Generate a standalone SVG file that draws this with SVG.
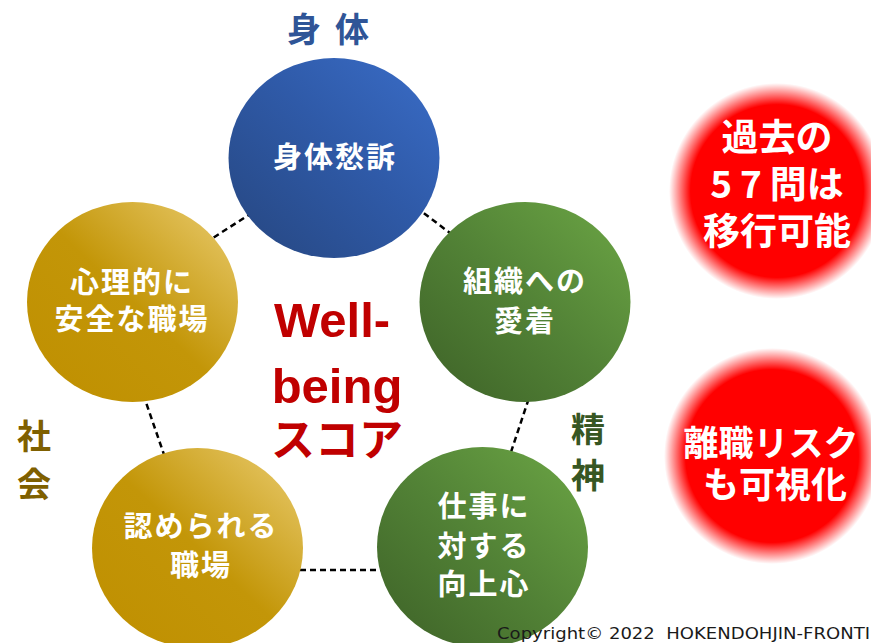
<svg xmlns="http://www.w3.org/2000/svg" width="871" height="643" viewBox="0 0 871 643">
  <defs>
    <linearGradient id="gBlue" x1="0" y1="1" x2="1" y2="0">
      <stop offset="0" stop-color="#26467f"/>
      <stop offset="0.55" stop-color="#2f5aa8"/>
      <stop offset="1" stop-color="#3a6dc8"/>
    </linearGradient>
    <linearGradient id="gGreen" x1="0" y1="1" x2="1" y2="0">
      <stop offset="0" stop-color="#3d6127"/>
      <stop offset="0.5" stop-color="#528236"/>
      <stop offset="1" stop-color="#6ca645"/>
    </linearGradient>
    <linearGradient id="gGold" x1="0" y1="1" x2="1" y2="0">
      <stop offset="0" stop-color="#bf8f00"/>
      <stop offset="0.5" stop-color="#c39608"/>
      <stop offset="1" stop-color="#ebcd72"/>
    </linearGradient>
    <radialGradient id="gRed" cx="0.5" cy="0.5" r="0.5">
      <stop offset="0" stop-color="#ff0000"/>
      <stop offset="0.8" stop-color="#ff0000"/>
      <stop offset="1" stop-color="#ff0000" stop-opacity="0"/>
    </radialGradient>
    <style>
      .dash { stroke: #000; stroke-width: 2.5; stroke-dasharray: 6 4; fill: none; }
      .ct { font-family: "Noto Sans CJK JP", "Noto Sans", sans-serif; font-weight: bold; fill: #fff; text-anchor: middle; }
      .ct30 { font-size: 29px; letter-spacing: 2px; }
      .rt { font-family: "Noto Sans CJK JP", "Noto Sans", sans-serif; font-weight: bold; fill: #fff; text-anchor: middle; }
      .lbl { font-family: "Noto Sans CJK JP", sans-serif; font-weight: bold; font-size: 34px; text-anchor: middle; }
      .wb { font-family: "Liberation Sans", Arial, sans-serif; font-weight: bold; font-size: 49px; fill: #c00000; text-anchor: middle; }
    </style>
  </defs>
  <rect width="871" height="643" fill="#ffffff"/>

  <g id="connectors">
    <line class="dash" x1="180" y1="259" x2="280" y2="195"/>
    <line class="dash" x1="400" y1="195" x2="475" y2="252"/>
    <line class="dash" x1="535" y1="380" x2="505" y2="470"/>
    <line class="dash" x1="280" y1="570" x2="400" y2="570"/>
    <line class="dash" x1="140" y1="385" x2="170" y2="472"/>
  </g>

  <g id="node-body">
    <ellipse cx="334" cy="158" rx="105.5" ry="100" fill="url(#gBlue)"/>
    <text class="ct ct30" x="335" y="168">身体愁訴</text>
  </g>
  <g id="node-attachment">
    <ellipse cx="525" cy="302" rx="105.5" ry="100" fill="url(#gGreen)"/>
    <text class="ct ct30" x="525" y="292">組織への</text>
    <text class="ct ct30" x="525" y="332">愛着</text>
  </g>
  <g id="node-motivation">
    <ellipse cx="482.5" cy="547" rx="105.5" ry="100" fill="url(#gGreen)"/>
    <text class="ct ct30" x="484" y="517">仕事に</text>
    <text class="ct ct30" x="484" y="557">対する</text>
    <text class="ct ct30" x="484" y="595">向上心</text>
  </g>
  <g id="node-recognized">
    <ellipse cx="197.5" cy="548" rx="105.5" ry="100" fill="url(#gGold)"/>
    <text class="ct ct30" x="201" y="537">認められる</text>
    <text class="ct ct30" x="201" y="576">職場</text>
  </g>
  <g id="node-safe">
    <ellipse cx="132.5" cy="302" rx="105.5" ry="100" fill="url(#gGold)"/>
    <text class="ct ct30" x="132" y="293">心理的に</text>
    <text class="ct ct30" x="132" y="330">安全な職場</text>
  </g>

  <g id="center-title">
    <text class="wb" x="332" y="337">Well-</text>
    <text class="wb" x="337" y="403">being</text>
    <text class="wb" x="337" y="456" style="font-family:'Noto Sans CJK JP',sans-serif;font-size:44px">スコア</text>
  </g>

  <g id="label-body">
    <text class="lbl" x="304" y="42" fill="#2f5597">身</text>
    <text class="lbl" x="352" y="42" fill="#2f5597">体</text>
  </g>
  <g id="label-society">
    <text class="lbl" x="34" y="449" fill="#7f6000">社</text>
    <text class="lbl" x="34" y="497" fill="#7f6000">会</text>
  </g>
  <g id="label-mind">
    <text class="lbl" x="588" y="442" fill="#375623">精</text>
    <text class="lbl" x="588" y="488" fill="#375623">神</text>
  </g>

  <g id="badge-57">
    <circle cx="777" cy="191" r="108" fill="url(#gRed)"/>
    <text class="rt" x="777" y="151" font-size="37">過去の</text>
    <text class="rt" x="777" y="198" font-size="37"><tspan letter-spacing="8">57</tspan>問は</text>
    <text class="rt" x="777" y="245" font-size="37">移行可能</text>
  </g>
  <g id="badge-risk">
    <circle cx="772" cy="456" r="108" fill="url(#gRed)"/>
    <text class="rt" x="771" y="456" font-size="35">離職リスク</text>
    <text class="rt" x="775" y="498" font-size="36">も可視化</text>
  </g>

  <text x="497" y="639" font-family="'DejaVu Sans', Verdana, sans-serif" font-size="16" fill="#1a1a1a" textLength="373" lengthAdjust="spacingAndGlyphs" xml:space="preserve">Copyright© 2022&#160; HOKENDOHJIN-FRONTI</text>
</svg>
